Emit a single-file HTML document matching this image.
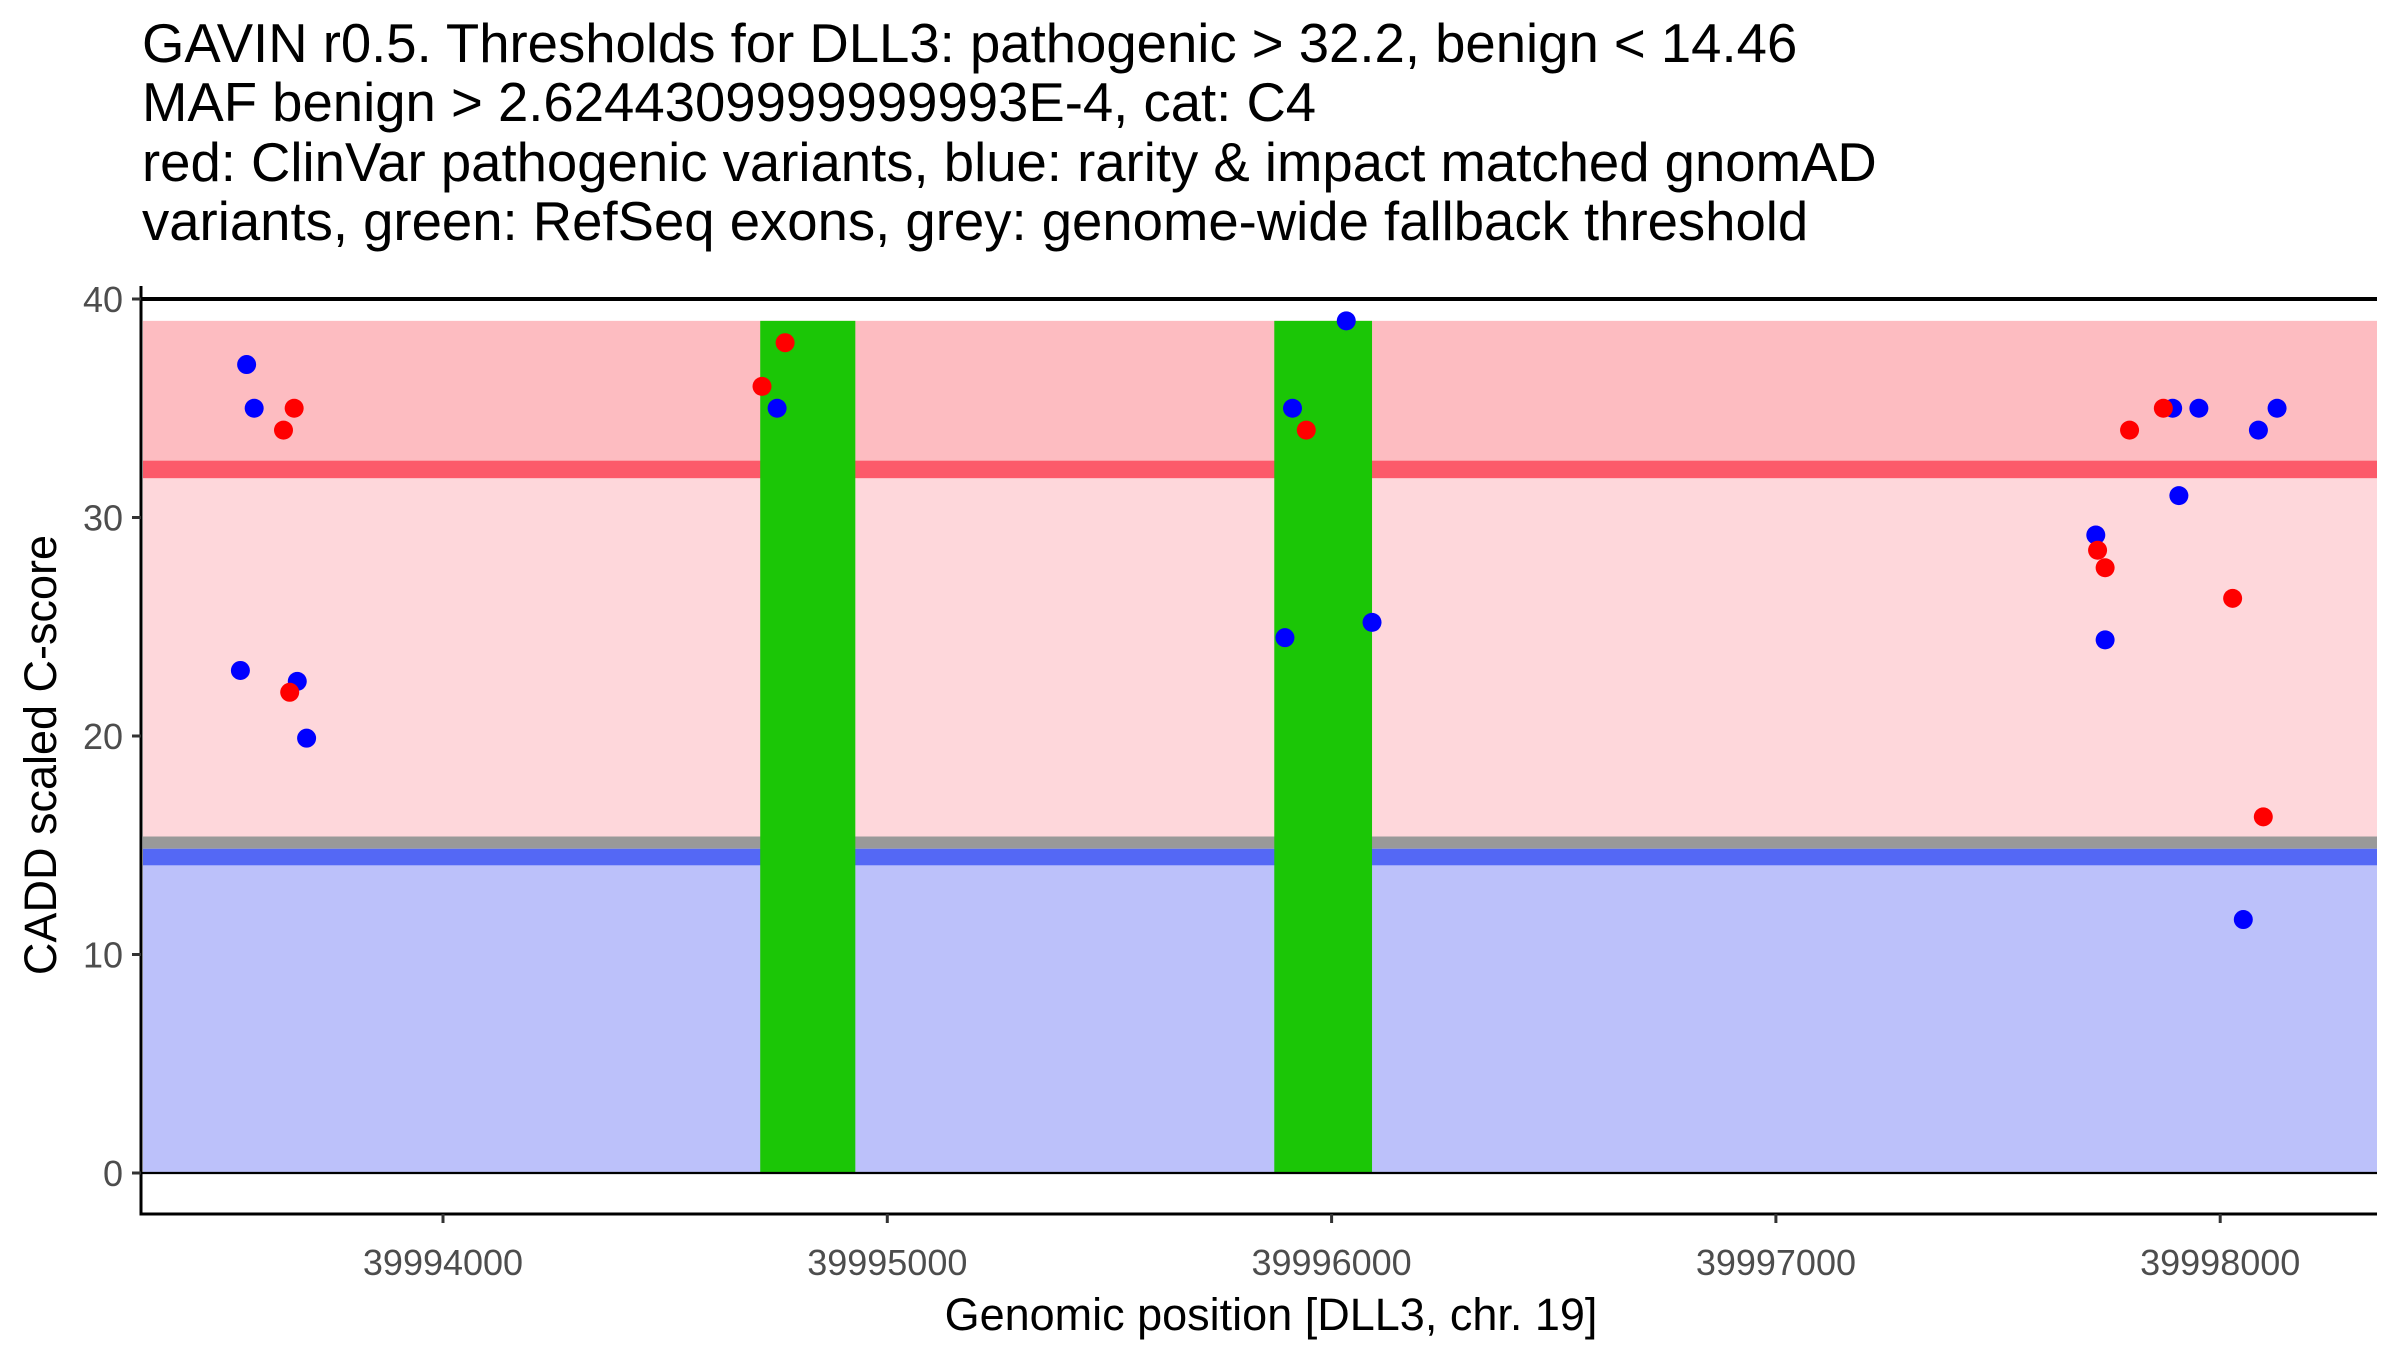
<!DOCTYPE html>
<html><head><meta charset="utf-8"><style>
html,body{margin:0;padding:0;background:#fff;}
svg{display:block;}
text{font-family:"Liberation Sans",sans-serif;}
</style></head><body>
<svg id="chart" width="2400" height="1350" viewBox="0 0 2400 1350" xmlns="http://www.w3.org/2000/svg">
<g font-size="54.5" fill="#000">
<text x="142" y="62">GAVIN r0.5. Thresholds for DLL3: pathogenic &gt; 32.2, benign &lt; 14.46</text>
<text x="142" y="121">MAF benign &gt; 2.6244309999999993E-4, cat: C4</text>
<text x="142" y="181">red: ClinVar pathogenic variants, blue: rarity &amp; impact matched gnomAD</text>
<text x="142" y="240">variants, green: RefSeq exons, grey: genome-wide fallback threshold</text>
</g>
<g id="bands"></g>
<g id="exons"></g>
<g id="hlines"></g>
<g id="points"></g>
<g id="axes"></g>
<text x="1271" y="1330" font-size="45" text-anchor="middle">Genomic position [DLL3, chr. 19]</text>
<text x="0" y="0" font-size="45" text-anchor="middle" transform="translate(56,755) rotate(-90)">CADD scaled C-score</text>
</svg>
<script>
const xTicks = [39994000, 39995000, 39996000, 39997000, 39998000];
const yTicks = [0, 10, 20, 30, 40];
const pathogenicThreshold = 32.2;
const benignThreshold = 14.46;
const fallbackThreshold = 15.1;
const bandTop = 39;
const exonStarts = [39994714, 39995871];
const exonEnds = [39994928, 39996091];
const benignX = [39993558,39993575,39993544,39993672,39993693,39994752,39995912,39995895,39996033,39996091,39997720,39997741,39997893,39997952,39997907,39998086,39998128,39998052];
const benignY = [37,35,23,22.5,19.9,35,35,24.5,39,25.2,29.2,24.4,35,35,31,34,35,11.6];
const pathoX = [39993665,39993641,39993655,39994718,39994770,39995943,39997724,39997741,39997796,39997872,39998028,39998097];
const pathoY = [35,34,22,36,38,34,28.5,27.7,34,35,26.3,16.3];

const NS = 'http://www.w3.org/2000/svg';
const L = 141, R = 2377, T = 286, B = 1214;
function sx(v){ return 443 + (v - 39994000) * 0.4443; }
function sy(v){ return 1173 - v * 21.85; }
function mk(parent, tag, attrs){
  const e = document.createElementNS(NS, tag);
  for (const k in attrs) e.setAttribute(k, attrs[k]);
  document.getElementById(parent).appendChild(e);
  return e;
}
function rect(parent, y1, y2, fill){
  return mk(parent, 'rect', {x: L+2, y: sy(y1), width: R-L-2, height: sy(y2)-sy(y1), fill: fill});
}
let e;
e = rect('bands', bandTop, pathogenicThreshold, '#FDBCC1');


e = rect('bands', pathogenicThreshold, fallbackThreshold, '#FED7DB');


e = rect('bands', benignThreshold - 0.38, 0, '#BCC1FA');


e = rect('bands', pathogenicThreshold + 0.4, pathogenicThreshold - 0.4, '#FC5A6A');


e = rect('bands', fallbackThreshold + 0.3, benignThreshold + 0.38, '#999999');


e = rect('bands', benignThreshold + 0.38, benignThreshold - 0.38, '#5468F5');



for (let i = 0; i < exonStarts.length; i++){
  e = mk('exons', 'rect', {x: sx(exonStarts[i]), y: sy(bandTop), width: sx(exonEnds[i]) - sx(exonStarts[i]), height: sy(0) - sy(bandTop), fill: '#1BC606'});
  
  
}
e = mk('hlines', 'line', {x1: L, x2: R, y1: sy(40), y2: sy(40), stroke: '#000', 'stroke-width': 4});


e = mk('hlines', 'line', {x1: L, x2: R, y1: sy(0), y2: sy(0), stroke: '#000', 'stroke-width': 2.2});



for (let i = 0; i < benignX.length; i++){
  e = mk('points', 'circle', {cx: sx(benignX[i]), cy: sy(benignY[i]), r: 9.5, fill: '#0000FF'});
  
  
}
for (let i = 0; i < pathoX.length; i++){
  e = mk('points', 'circle', {cx: sx(pathoX[i]), cy: sy(pathoY[i]), r: 9.5, fill: '#FF0000'});
  
  
}

e = mk('axes', 'line', {x1: L, x2: L, y1: T, y2: B + 1.5, stroke: '#000', 'stroke-width': 3});


e = mk('axes', 'line', {x1: L - 1.5, x2: R, y1: B, y2: B, stroke: '#000', 'stroke-width': 3});


for (const t of yTicks){
  e = mk('axes', 'line', {x1: L - 9, x2: L, y1: sy(t), y2: sy(t), stroke: '#333', 'stroke-width': 3});
  
  
  e = mk('axes', 'text', {x: L - 18, y: sy(t) + 13, 'font-size': 36, fill: '#4d4d4d', 'text-anchor': 'end', 'transform': ''});
  e.textContent = t;
  
  
}
for (const t of xTicks){
  e = mk('axes', 'line', {x1: sx(t), x2: sx(t), y1: B, y2: B + 9, stroke: '#333', 'stroke-width': 3});
  
  
  e = mk('axes', 'text', {x: sx(t), y: B + 61, 'font-size': 36, fill: '#4d4d4d', 'text-anchor': 'middle'});
  e.textContent = t;
  
  
}
</script>
</body></html>
